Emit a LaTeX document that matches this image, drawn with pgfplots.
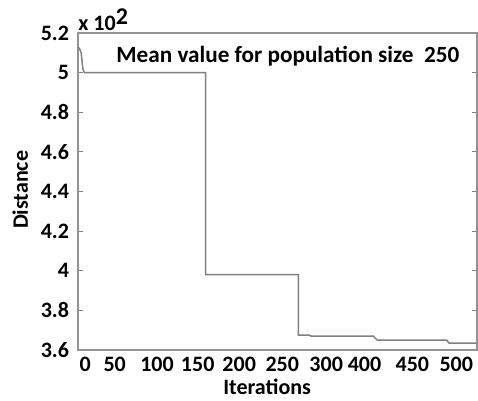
\documentclass[border=0pt]{standalone}
\usepackage{pgfplots}
\pgfplotsset{compat=1.18}
\usepackage{fontspec}
\setmainfont{Carlito}
\begin{document}
\begin{tikzpicture}
\begin{axis}[
  scale only axis, width=199.5pt, height=158.5pt,
  xmin=0, xmax=500, ymin=360, ymax=520,
  xtick={9,46,99,150,202,256,311,359,419,474},
  xticklabels={0,50,100,150,200,250,300,400,450,500},
  x tick style={draw=none},
  extra x ticks={0,50,...,500},
  extra x tick labels={},
  extra x tick style={tick style={gray, line width=0.6pt}, major tick length=2.5pt},
  ytick={360,380,...,520},
  yticklabels={3.6,3.8,4,4.2,4.4,4.6,4.8,5,5.2},
  tick pos=both, tick align=inside, major tick length=2.5pt,
  axis line style={gray!85, line width=0.8pt},
  y tick style={gray, line width=0.6pt},
  ticklabel style={font=\bfseries\fontsize{11}{13}\selectfont, text=black},
  /pgf/number format/assume math mode=true,
  yticklabel style={xshift=-1pt},
  xlabel={Iterations}, ylabel={Distance},
  label style={font=\bfseries\fontsize{11}{13}\selectfont},
  xlabel style={at={(axis description cs:0.474,-0.115)}, anchor=center},
  ylabel style={at={(axis description cs:-0.145,0.505)}, anchor=center},
  clip=false,
]
\addplot[gray, line width=0.75pt] coordinates {
(0,513) (2,512) (4,510) (5,506) (6,502) (8,500) (160,500) (160,398)
(276,398) (276,367.5) (290,367.5) (292,367) (370,367) (375,365)
(462,365) (465,363.5) (500,363.5)
};
\node[font=\bfseries\fontsize{11.6}{13}\selectfont, anchor=center] at (axis cs:263,508.5) {Mean value for population size\ \ 250};
\node[font=\bfseries\fontsize{11}{13}\selectfont, anchor=south west, inner sep=0pt] at (axis description cs:0,1.005) {x 10\raisebox{0.6ex}{\fontsize{12}{13}\selectfont 2}};
\end{axis}
\pgfresetboundingbox
\path[use as bounding box] ([xshift=-39pt,yshift=-25pt]current axis.south west) rectangle ([xshift=0.5pt,yshift=16.5pt]current axis.north east);
\end{tikzpicture}
\end{document}
